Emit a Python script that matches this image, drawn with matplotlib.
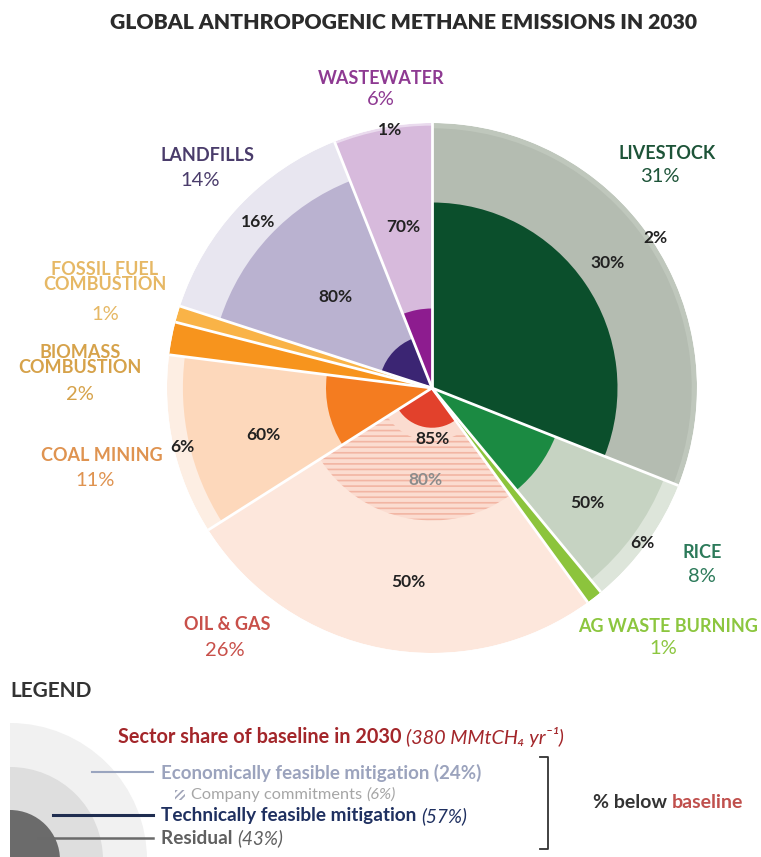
#!/usr/bin/env python3
"""
Global anthropogenic methane emissions in 2030: sector share and mitigation potential
"""

import numpy as np
import matplotlib
matplotlib.use("Agg")
import matplotlib.pyplot as plt
from matplotlib.patches import Wedge, Rectangle

plt.rcParams['font.family'] = ['Lato', 'DejaVu Sans']
plt.rcParams['hatch.linewidth'] = 1.2

W, H = 761, 857

# sectors clockwise from 12 o'clock
sectors = ['LIVESTOCK', 'RICE', 'AG WASTE BURNING', 'OIL & GAS', 'COAL MINING',
           'BIOMASS\nCOMBUSTION', 'FOSSIL FUEL\nCOMBUSTION', 'LANDFILLS', 'WASTEWATER']
share = [31, 8, 1, 26, 11, 2, 1, 14, 6]             # % of baseline
econ = [2, 6, None, 50, 6, None, None, 16, 1]      # economically feasible, % below baseline
tech = [30, 50, None, 85, 60, None, None, 80, 70]  # technically feasible, % below baseline
commit_oil_gas = 80                                # company commitments, % below baseline

# colours: (pale outer, medium, dark residual) or single solid colour
fills = [('#bfc7bc', '#b4bcb1', '#0b4f2c'),
         ('#dde5da', '#c6d3c2', '#1b8a42'),
         '#8cc43c',
         ('#fde7dc', '#fbdcd0', '#e2412c'),
         ('#fdeee3', '#fdd8bb', '#f47c20'),
         '#f7941d',
         '#f9b347',
         ('#e8e6f0', '#bab2d0', '#3b2573'),
         ('#eadbee', '#d7badc', '#8d1c8f')]
label_col = ['#1d5438', '#2c7a5a', '#8cc63f', '#c8504a', '#df9350',
             '#d6a24a', '#e6b865', '#4a3c6b', '#8e3a92']

fig = plt.figure(figsize=(W / 100, H / 100), dpi=100)

# ---- radial chart ----
cx, cy, R = 432, 388, 265
pax = fig.add_axes([(cx - R) / W, 1 - (cy + R) / H, 2 * R / W, 2 * R / H], projection='polar')
pax.set_theta_zero_location('N')
pax.set_theta_direction(-1)
pax.set_ylim(0, 1)
pax.set_axis_off()

widths = np.array(share) / sum(share) * 2 * np.pi
starts = np.concatenate([[0], np.cumsum(widths)[:-1]])
mids = starts + widths / 2

for i in range(len(sectors)):
    if tech[i] is None:
        pax.bar(mids[i], 1, width=widths[i], color=fills[i], linewidth=0)
        continue
    pale, mid, dark = fills[i]
    pax.bar(mids[i], 1, width=widths[i], color=pale, linewidth=0)
    pax.bar(mids[i], 1 - econ[i] / 100, width=widths[i], color=mid, linewidth=0)
    if sectors[i] == 'OIL & GAS':
        pax.bar(mids[i], 1 - econ[i] / 100 - (1 - commit_oil_gas / 100),
                bottom=1 - commit_oil_gas / 100, width=widths[i],
                facecolor='none', edgecolor='#f2b5a3', hatch='---', linewidth=0)
    pax.bar(mids[i], 1 - tech[i] / 100, width=widths[i], color=dark, linewidth=0)

for a in starts:
    pax.plot([a, a], [0, 1], color='white', lw=2)

# ---- overlay in pixel coordinates ----
ax = fig.add_axes([0, 0, 1, 1])
ax.set_xlim(0, W)
ax.set_ylim(H, 0)
ax.set_axis_off()

ax.text(404, 22, 'GLOBAL ANTHROPOGENIC METHANE EMISSIONS IN 2030', ha='center', va='center',
        fontsize=15.2, fontweight='heavy', color='#2b2b2b')

# sector names and shares
name_pos = [(667, 153), (702, 552), (668, 627), (227, 625), (102, 455),
            (80, 360), (105, 277), (207, 155), (381, 78)]
share_pos = [(660, 176), (702, 577), (663, 648), (225, 651), (95, 480),
             (80, 394), (105, 315), (200, 180), (381, 99)]
for i, name in enumerate(sectors):
    ax.text(*name_pos[i], name, ha='center', va='center', fontsize=13, fontweight='bold',
            color=label_col[i], linespacing=0.9)
    ax.text(*share_pos[i], f'{share[i]}%', ha='center', va='center', fontsize=14.5,
            color=label_col[i])

# mitigation labels inside the rings
econ_pos = {0: (655, 238), 1: (642, 543), 3: (408, 582), 4: (182, 447), 7: (258, 222), 8: (390, 130)}
tech_pos = {0: (608, 263), 1: (587, 503), 3: (433, 439), 4: (263, 435), 7: (335, 297), 8: (403, 227)}
for i, p in econ_pos.items():
    ax.text(*p, f'{econ[i]}%', ha='center', va='center', fontsize=12.5, fontweight='bold', color='#222222')
for i, p in tech_pos.items():
    ax.text(*p, f'{tech[i]}%', ha='center', va='center', fontsize=12.5, fontweight='bold', color='#222222')
ax.text(425, 480, f'{commit_oil_gas}%', ha='center', va='center', fontsize=12.5,
        fontweight='bold', color='#8c8c8c')

# ---- legend ----
ax.text(10, 691, 'LEGEND', ha='left', va='center', fontsize=15, fontweight='bold', color='#333333')

for r, c in [(137, '#f1f1f1'), (93, '#dedede'), (50, '#6b6b6b')]:
    ax.add_patch(Wedge((10, 860), r, -90, 90, color=c, lw=0))

renderer = fig.canvas.get_renderer()


def chain(x, y, parts, size):
    for s, kw in parts:
        t = ax.text(x, y, s, ha='left', va='center', fontsize=size, **kw)
        x += t.get_window_extent(renderer=renderer).width


chain(118, 737, [('Sector share of baseline in 2030 ', dict(color='#a3262a', fontweight='bold')),
                 ('(380 MMtCH₄ yr⁻¹)', dict(color='#a3262a', style='italic'))], 14.3)
chain(161, 773, [('Economically feasible mitigation (24%)', dict(color='#9ba3bd', fontweight='bold'))], 13.5)
chain(191, 795, [('Company commitments ', dict(color='#a6a6a6')),
                 ('(6%)', dict(color='#a6a6a6', style='italic'))], 11.8)
chain(161, 816, [('Technically feasible mitigation ', dict(color='#1f3060', fontweight='bold')),
                 ('(57%)', dict(color='#1f3060', style='italic'))], 13.7)
chain(161, 838, [('Residual ', dict(color='#606060', fontweight='bold')),
                 ('(43%)', dict(color='#606060', style='italic'))], 13.7)

ax.add_patch(Rectangle((175, 790), 10, 10, facecolor='none', edgecolor='#a0a4b8',
                       hatch='/////', lw=0))

ax.plot([92, 153], [772, 772], color='#9aa5bf', lw=1.5)
ax.plot([53, 153], [815, 815], color='#1f2d50', lw=2.2)
ax.plot([38, 153], [838, 838], color='#6a6a6a', lw=1.8)

# bracket
ax.plot([540, 548, 548, 540], [757, 757, 849, 849], color='#333333', lw=1.3)
chain(593, 803, [('% below ', dict(color='#333333', fontweight='bold')),
                 ('baseline', dict(color='#c0504d', fontweight='bold'))], 14)

fig.savefig('out.png', dpi=100)
